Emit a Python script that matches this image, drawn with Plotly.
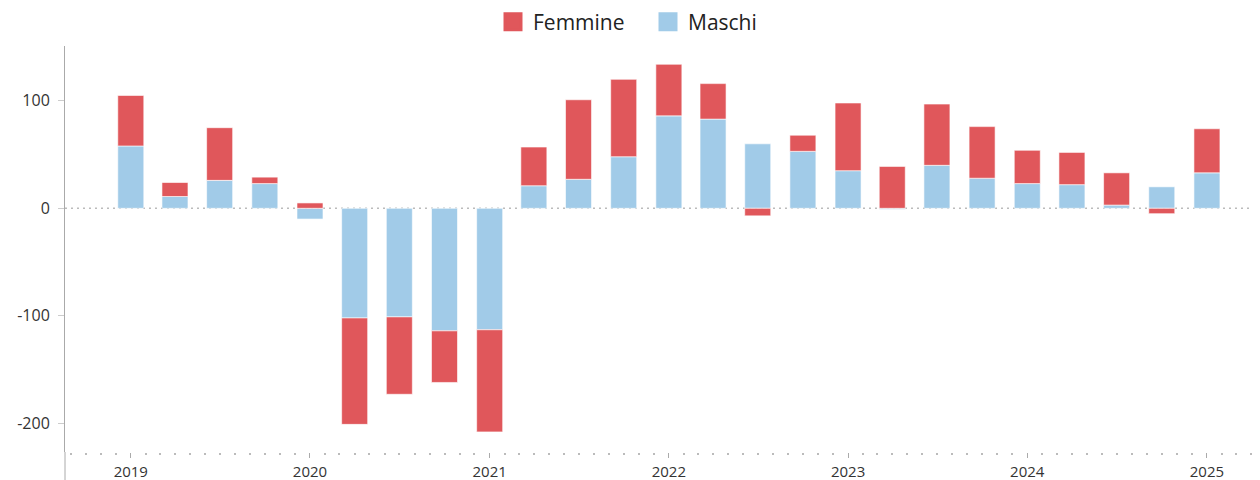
import plotly.graph_objects as go

quarters = ["2019-01-01", "2019-04-01", "2019-07-01", "2019-10-01",
            "2020-01-01", "2020-04-01", "2020-07-01", "2020-10-01",
            "2021-01-01", "2021-04-01", "2021-07-01", "2021-10-01",
            "2022-01-01", "2022-04-01", "2022-07-01", "2022-10-01",
            "2023-01-01", "2023-04-01", "2023-07-01", "2023-10-01",
            "2024-01-01", "2024-04-01", "2024-07-01", "2024-10-01",
            "2025-01-01"]

maschi = [58, 11, 26, 23,
          -10, -102, -101, -114,
          -113, 21, 27, 48,
          86, 83, 60, 53,
          35, -1, 40, 28,
          23, 22, 3, 20,
          33]

femmine = [47, 13, 49, 6,
           5, -99, -72, -48,
           -95, 36, 74, 72,
           48, 33, -7, 15,
           63, 39, 57, 48,
           31, 30, 30, -5,
           41]

y_tickvals = [-200, -100, 0, 100]
y_ticktext = ["-200", "-100", "0", "100"]

RED = "#E0575B"
BLUE = "#A1CBE8"
FONT = "Open Sans"
BAR_W = 53 * 86400000

W, H = 1252, 472  # page body adds an 8px offset

fig = go.Figure()
fig.add_trace(go.Bar(x=quarters, y=maschi, name="Maschi",
                     marker=dict(color=BLUE, line=dict(color="rgba(255,255,255,0.6)", width=1)),
                     width=BAR_W, showlegend=False))
fig.add_trace(go.Bar(x=quarters, y=femmine, name="Femmine",
                     marker=dict(color=RED, line=dict(color="rgba(255,255,255,0.6)", width=1)),
                     width=BAR_W, showlegend=False))
# legend entries
fig.add_trace(go.Scatter(x=[None], y=[None], mode="markers", name="Femmine",
                         marker=dict(symbol="square", size=16, color=RED, line=dict(color=RED, width=3))))
fig.add_trace(go.Scatter(x=[None], y=[None], mode="markers", name="Maschi",
                         marker=dict(symbol="square", size=16, color=BLUE, line=dict(color=BLUE, width=3))))

fig.update_layout(
    barmode="relative",
    width=W, height=H,
    margin=dict(l=57, r=2, t=38, b=28),
    plot_bgcolor="white", paper_bgcolor="white",
    font=dict(family=FONT, color="#333", size=16),
    legend=dict(orientation="h", xref="container", yref="container",
                x=640 / W, xanchor="center", y=1 - 14 / H, yanchor="middle",
                font=dict(size=21, color="#222"), entrywidth=110),
    xaxis=dict(type="date", range=["2018-08-20", "2025-04-15"],
               tick0="2019-01-01", dtick="M12", tickformat="%Y",
               ticks="outside", ticklen=5, tickcolor="#aaa", tickwidth=1,
               ticklabelstandoff=1, automargin=False,
               showline=False, showgrid=False, zeroline=False,
               tickfont=dict(size=15, color="#333"),
               minor=dict(dtick="M1", ticks="outside", ticklen=2, tickcolor="#bbb", tickwidth=1.5)),
    yaxis=dict(range=[-226.7, 151], tickvals=y_tickvals, ticktext=y_ticktext,
               ticks="outside", ticklen=6, tickcolor="#ccc",
               ticklabelstandoff=5, automargin=False,
               showline=True, linecolor="#aaa", linewidth=1,
               showgrid=False, zeroline=False,
               tickfont=dict(size=16, color="#333")),
    shapes=[
        dict(type="line", xref="paper", yref="y", x0=0, x1=1, y0=0, y1=0,
             line=dict(color="#bbb", width=1.5, dash="2px,4px"), layer="below"),
        dict(type="line", xref="paper", yref="paper", x0=0, x1=0, y0=-0.1, y1=0,
             line=dict(color="#aaa", width=1)),
    ],
)

fig.write_html("out.html")
